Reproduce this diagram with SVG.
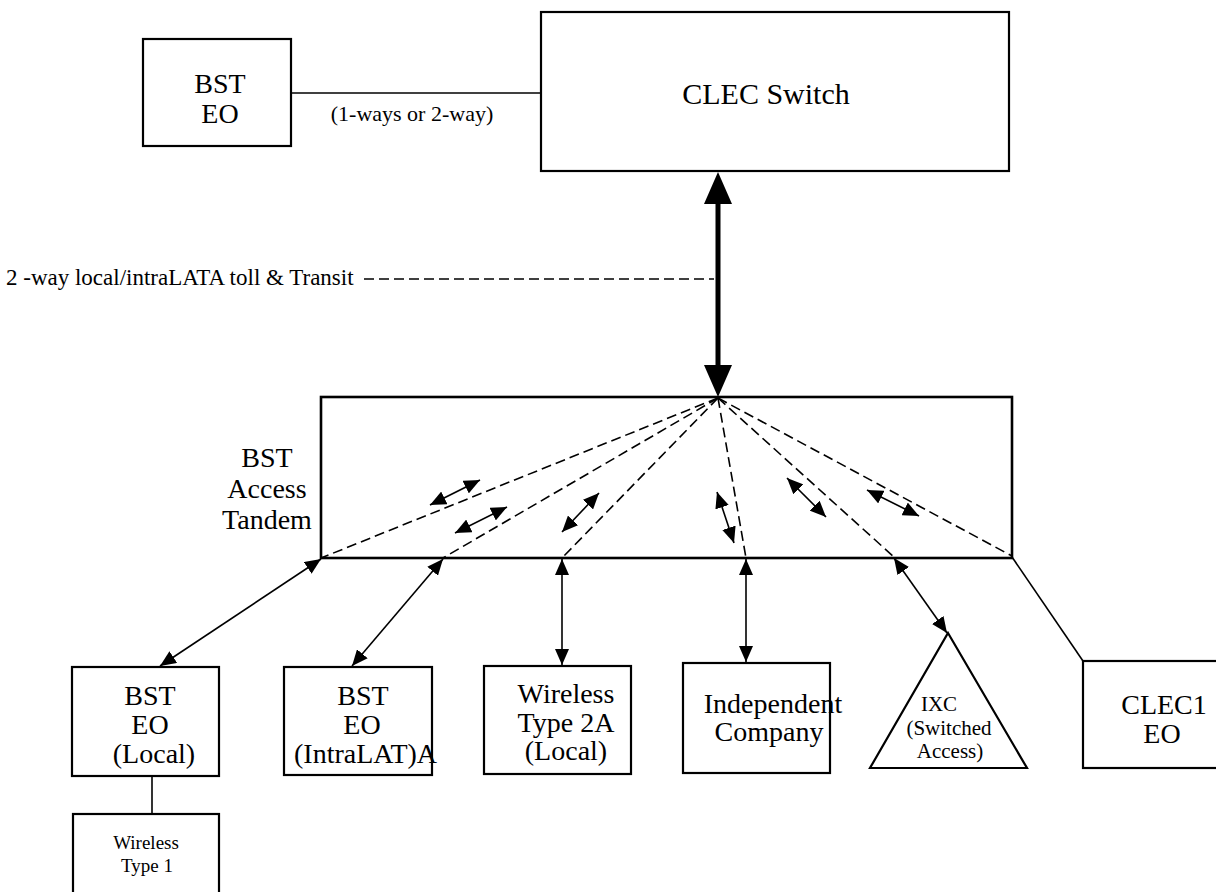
<svg xmlns="http://www.w3.org/2000/svg" width="1216" height="892" viewBox="0 0 1216 892">
<style>
  .box { fill: #fff; stroke: #000; stroke-width: 2.2; }
  .t { font-family: "Liberation Serif", "Times New Roman", serif; fill: #000; text-anchor: middle; }
  .big { font-size: 28px; }
  .sm { font-size: 21px; }
  .xs { font-size: 19px; }
  .ln { stroke: #000; stroke-width: 1.6; fill: none; }
  .dash { stroke: #000; stroke-width: 1.6; fill: none; stroke-dasharray: 10 5; }
  .arr { stroke: #000; stroke-width: 1.6; fill: none; marker-start: url(#ah); marker-end: url(#ah); }
</style>
<defs>
  <marker id="ah" viewBox="0 0 16 14" refX="16" refY="7" markerWidth="16" markerHeight="14" markerUnits="userSpaceOnUse" orient="auto-start-reverse">
    <path d="M0,0 L16,7 L0,14 z" fill="#000"/>
  </marker>
</defs>
<rect width="1216" height="892" fill="#fff"/>

<g id="n-bst-eo-top">
  <rect class="box" x="143" y="39" width="148" height="107"/>
  <text class="t big" x="220" y="93">BST</text>
  <text class="t big" x="220" y="123">EO</text>
</g>

<g id="n-clec-switch">
  <rect class="box" x="541" y="12" width="468" height="159"/>
  <text class="t big" x="766" y="104" style="font-size:30px">CLEC Switch</text>
</g>

<g id="n-tandem">
  <rect class="box" x="321" y="397" width="691" height="161" style="stroke-width:2.6"/>
  <text class="t big" x="267" y="467">BST</text>
  <text class="t big" x="267" y="498">Access</text>
  <text class="t big" x="267" y="529">Tandem</text>
</g>

<g id="n-bst-eo-local">
  <rect class="box" x="72" y="667" width="147" height="109"/>
  <text class="t big" x="150" y="705">BST</text>
  <text class="t big" x="150" y="734">EO</text>
  <text class="t big" x="154" y="763">(Local)</text>
</g>

<g id="n-wireless-type1">
  <rect class="box" x="73" y="814" width="146" height="90"/>
  <text class="t xs" x="146" y="849">Wireless</text>
  <text class="t xs" x="147" y="872">Type 1</text>
</g>

<g id="n-bst-eo-intralata">
  <rect class="box" x="284" y="667" width="148" height="108"/>
  <text class="t big" x="363" y="705">BST</text>
  <text class="t big" x="362" y="734">EO</text>
  <text class="t big" x="294" y="763" style="text-anchor:start">(IntraLAT)A</text>
</g>

<g id="n-wireless-2a">
  <rect class="box" x="484" y="666" width="147" height="108"/>
  <text class="t big" x="566" y="703">Wireless</text>
  <text class="t big" x="566" y="732">Type 2A</text>
  <text class="t big" x="566" y="760">(Local)</text>
</g>

<g id="n-independent">
  <rect class="box" x="683" y="663" width="147" height="110"/>
  <text class="t big" x="773" y="713">Independent</text>
  <text class="t big" x="769" y="741">Company</text>
</g>

<g id="n-ixc">
  <polygon class="box" points="948,633 1027,768 870,768"/>
  <text class="t sm" x="939" y="711">IXC</text>
  <text class="t sm" x="949" y="735">(Switched</text>
  <text class="t sm" x="950" y="758">Access)</text>
</g>

<g id="n-clec1-eo">
  <rect class="box" x="1083" y="661" width="140" height="107"/>
  <text class="t big" x="1164" y="714">CLEC1</text>
  <text class="t big" x="1162" y="743">EO</text>
</g>

<g id="labels">
  <text class="t sm" x="412" y="121" style="font-size:22px">(1-ways or 2-way)</text>
  <text class="t sm" x="6" y="285" style="text-anchor:start;font-size:23px">2 -way local/intraLATA toll &amp; Transit</text>
</g>

<g id="connectors">
  <line class="ln" x1="291" y1="93" x2="541" y2="93"/>
  <line class="dash" x1="364" y1="279" x2="714" y2="279"/>
  <line x1="718" y1="200" x2="718" y2="368" stroke="#000" stroke-width="5"/>
  <polygon points="718,172 704,204 732,204" fill="#000"/>
  <polygon points="718,397 704,365 732,365" fill="#000"/>
  <line class="dash" x1="718" y1="398" x2="321" y2="558"/>
  <line class="dash" x1="718" y1="398" x2="443" y2="558"/>
  <line class="dash" x1="718" y1="398" x2="562" y2="558"/>
  <line class="dash" x1="718" y1="398" x2="746" y2="558"/>
  <line class="dash" x1="718" y1="398" x2="894" y2="557"/>
  <line class="dash" x1="718" y1="398" x2="1012" y2="556"/>
  <line class="arr" x1="430" y1="505" x2="480" y2="480"/>
  <line class="arr" x1="455" y1="533" x2="507" y2="507"/>
  <line class="arr" x1="562" y1="532" x2="599" y2="493"/>
  <line class="arr" x1="717" y1="492" x2="734" y2="543"/>
  <line class="arr" x1="787" y1="478" x2="826" y2="517"/>
  <line class="arr" x1="867" y1="490" x2="919" y2="516"/>
  <line class="arr" x1="321" y1="559" x2="160" y2="666"/>
  <line class="arr" x1="443" y1="559" x2="352" y2="666"/>
  <line class="arr" x1="562" y1="559" x2="562" y2="665"/>
  <line class="arr" x1="746" y1="559" x2="746" y2="662"/>
  <line class="arr" x1="894" y1="558" x2="947" y2="633"/>
  <line class="ln" x1="1012" y1="557" x2="1083" y2="661"/>
  <line class="ln" x1="152" y1="776" x2="152" y2="814"/>
</g>
</svg>
